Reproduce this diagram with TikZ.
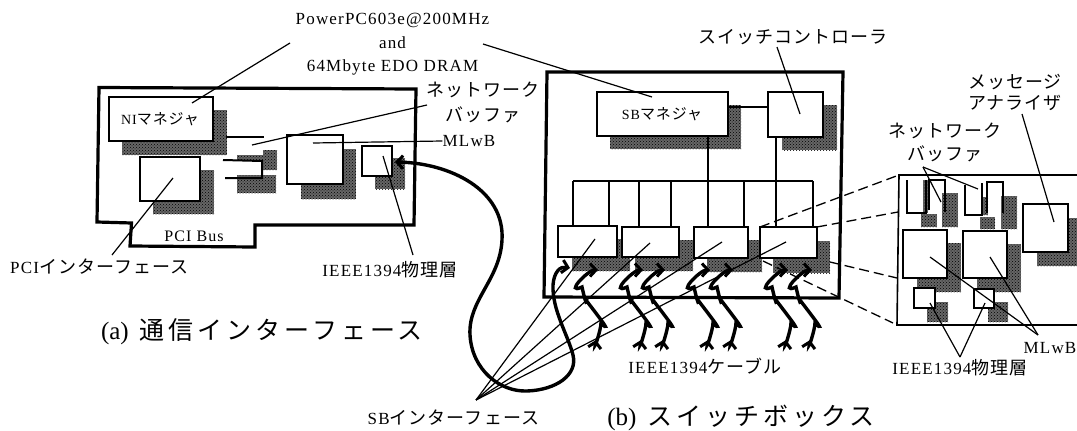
\documentclass[tikz,border=0pt]{standalone}
\usepackage{fontspec}
\setmainfont{Liberation Serif}
\newfontfamily\lat[LetterSpace=7]{Liberation Serif}
\newfontfamily\cjk[LetterSpace=6]{Noto Sans CJK JP}
\newfontfamily\capf[LetterSpace=16]{Noto Sans CJK JP}
\usetikzlibrary{arrows.meta,patterns}
\tikzset{
  wall/.style={draw=black,line width=3.2pt,line join=miter},
  boxst/.style={draw=black,line width=2pt,fill=white,inner sep=0pt,outer sep=0pt},
  shad/.style={fill=black!60,draw=none,postaction={pattern=crosshatch dots,pattern color=black}},
  lead/.style={draw=black,line width=1.2pt},
  wire/.style={draw=black,line width=1.7pt},
  dashln/.style={draw=black,line width=1.3pt,dash pattern=on 10pt off 5pt},
  cable/.style={draw=black,line width=3.4pt,{Straight Barb[length=6pt,width=13pt,line width=3pt]}-{Straight Barb[length=6pt,width=13pt,line width=3pt]}},
  lab/.style={inner sep=0pt,align=center,font=\fontsize{17}{23.5}\selectfont\lat},
  kana/.style={inner sep=0pt,align=center,font=\fontsize{18}{24.5}\selectfont\cjk},
  captext/.style={inner sep=0pt,font=\fontsize{25}{28}\selectfont\capf},
}
\newcommand\bxn[5]{%
  \pgfmathsetmacro\wdd{#4-#2}\pgfmathsetmacro\htt{#5-#3}%
  \pgfmathsetmacro\cxx{(#2+#4)/2}\pgfmathsetmacro\cyy{(#3+#5)/2}%
  \node[boxst,minimum width=\wdd pt,minimum height=\htt pt] (#1) at (\cxx,\cyy) {};}
\newcommand\shd[4]{\fill[shad] (#1,#2) rectangle (#3,#4);}
\newcommand\kn[1]{{\fontsize{18}{18}\selectfont\cjk #1}}
\newcommand\tinycable[2]{%
  \coordinate (#1) at (#2,270);
  \draw[cable] (#1) .. controls +(-10,0) and +(-18,8) .. ++(-16,17)
     .. controls +(1,5) and +(1,8) .. ++(4,13)
     .. controls +(5,7) and +(14,14) .. ++(15,23)
     .. controls +(0,6) and +(-2,11) .. ++(-5,17);}
\begin{document}
\begin{tikzpicture}[x=1pt,y=-1pt]
\useasboundingbox (0,0) rectangle (1077,431);

% ---- (a) interface board
\draw[wall] (99,87.5) -- (416,89) -- (414,225) -- (255,225) -- (255,247) -- (130,246) -- (131.5,223) -- (97,222) -- cycle;
\shd{122}{110}{227}{155}
\shd{153}{170}{214}{214}
\shd{263}{150}{277}{170}
\shd{237}{155}{263}{160}
\shd{237}{175}{276}{193}
\shd{301}{149}{356}{199}
\shd{375}{158}{405}{189}
\bxn{nim}{109}{97}{213}{141}
\bxn{pcib}{140}{157}{200}{201}
\bxn{bufa}{287}{135}{343}{184}
\bxn{phya}{362}{146}{392}{176}
\draw[wire,line width=2pt] (226,137) -- (264,137);
\draw[wire,line width=2pt] (223,160) -- (262,161) -- (262,178) -- (225,178);
\node[lab] (nimt) at (160,119) {\fontsize{14}{14}\selectfont\lat NI\fontsize{15}{15}\selectfont\cjk マネジャ};
\node[lab,font=\fontsize{16}{16}\selectfont\lat] (pcibus) at (194,236) {PCI Bus};

% ---- shared label
\node[lab] (ppc) at (392.5,44.5) {PowerPC603e@200MHz\\and\\64Mbyte EDO DRAM};
\node[kana] (nba) at (483,102.5) {ネットワーク\\バッファ};
\node[lab] (mlwa) at (469,141) {MLwB};
\node[lab] (phyta) at (390,270) {IEEE1394\kn{物理層}};
\node[lab,anchor=west] (pcit) at (10,267) {PCI\kn{インターフェース}};
\node[captext] (capa) at (262,332) {{\fontsize{25}{28}\selectfont\rmfamily (a)}\kern11pt 通信インターフェース};

% ---- (b) switch box
\draw[wall] (547,72) -- (843,72) -- (839,298) -- (544,297) -- cycle;
\shd{610}{105}{741}{149}
\shd{782}{105}{837}{150}
\shd{572}{239}{630}{271}
\shd{635}{240}{693}{271}
\shd{707}{240}{762}{272}
\shd{773}{241}{830}{273}
\bxn{sbm}{597}{92}{728}{136}
\bxn{ctl}{768}{92}{823}{137}
\foreach \xx/\nn in {573/a,609/b,639/c,671/d,708/e,744/f,776/g,813/h}{
  \coordinate (top\nn) at (\xx,181);
  \draw[wire] (top\nn) -- (\xx,227);
}
\draw[wire] (topa) -- (toph);
\bxn{sba}{558}{226}{617}{257}
\bxn{sbb}{622}{227}{679}{257}
\bxn{sbc}{694}{227}{748}{258}
\bxn{sbd}{760}{227}{817}{258}
\draw[wire] (sbm.east |- 0,107) -- (ctl.west |- 0,107);
\draw[wire] (sbm.south -| tope) -- (tope);
\draw[wire] (ctl.south -| topg) -- (topg);
\node[lab] (sbmt) at (662,114) {\fontsize{14}{14}\selectfont\lat SB\fontsize{15}{15}\selectfont\cjk マネジャ};
\node[kana] (ctlt) at (793,37) {スイッチコントローラ};

% small cables
\tinycable{c1}{598}
\tinycable{c2}{643}
\tinycable{c3}{665}
\tinycable{c4}{710}
\tinycable{c5}{733}
\tinycable{c6}{788}
\tinycable{c7}{812}

% long cable
\coordinate (c0a) at (395,162);
\coordinate (c0b) at (570,268);
\draw[cable] (c0a) .. controls (450,163) and (505,190) .. (502,240)
   .. controls (500,280) and (468,300) .. (470,335)
   .. controls (472,370) and (500,392) .. (527,391)
   .. controls (556,390) and (578,375) .. (573,355)
   .. controls (568,335) and (552,310) .. (553,285)
   .. controls (554,272) and (560,266) .. (c0b);

% ---- right inset
\draw[line width=1.6pt] (1077,175) -- (899,175) -- (897,325) -- (1077,325);
\shd{923}{180}{928}{213}
\shd{921}{214}{937}{227}
\shd{942}{193}{958}{227}
\shd{982}{197}{988}{215}
\shd{980}{217}{995}{229}
\shd{1001}{196}{1017}{229}
\shd{917}{243}{961}{292}
\shd{977}{244}{1021}{292}
\shd{1037}{218}{1077}{266}
\shd{927}{302}{948}{322}
\shd{988}{302}{1008}{322}
\bxn{ba}{903}{230}{947}{278}
\bxn{bb}{963}{231}{1007}{278}
\bxn{an}{1023}{204}{1068}{252}
\bxn{pa}{914}{288}{935}{308}
\bxn{pb}{974}{289}{994}{308}
\draw[wire,line width=2pt] (907,180) -- (907,213) -- (926,213) -- (926,180);
\draw[wire,line width=2pt] (929,210) -- (929,180) -- (945,180) -- (945,212);
\draw[wire,line width=2pt] (965,185) -- (965,215) -- (982,215) -- (982,183);
\draw[wire,line width=2pt] (987,213) -- (987,182) -- (1003,182) -- (1003,213);

\draw[dashln] (sbd.north west) -- (899,175);
\draw[dashln] (sbd.north east) -- (898,212);
\draw[dashln] (830,262) -- (897,278);
\draw[dashln] (763,261) -- (893,323);

\node[kana,font=\fontsize{18}{21}\selectfont\cjk] (mest) at (1015,92.5) {メッセージ\\アナライザ};
\node[kana,font=\fontsize{18}{23}\selectfont\cjk] (nbt) at (945,142.5) {ネットワーク\\バッファ};
\node[lab] (mlwb) at (1050,348) {MLwB};
\node[lab] (phytb) at (960,368) {IEEE1394\kn{物理層}};
\node[lab] (cabt) at (705,366) {IEEE1394\kn{ケーブル}};
\node[lab] (sbit) at (453.5,418) {SB\kn{インターフェース}};
\node[captext] (capb) at (741,418) {{\fontsize{25}{28}\selectfont\rmfamily (b)}\kern11pt スイッチボックス};

% ---- leaders
\draw[lead] (290,43) -- (192,103);
\draw[lead] (427,105) -- (252,145);
\draw[lead] (mlwa.west) -- (313,143);
\draw[lead] (413,255) -- (383,156);
\draw[lead] (112,255) -- (173,178);
\draw[lead] (483,44) -- (652,97);
\draw[lead] (777,47) -- (800,114);
\foreach \tx/\ty in {595/239,650/243,722/242,786/242}
  \draw[lead] (476,400) -- (\tx,\ty);
\draw[lead] (923,167) -- (941,202);
\draw[lead] (923,167) -- (978,189);
\draw[lead] (1022,114) -- (1054,222);
\draw[lead] (1038,335) -- (930,257);
\draw[lead] (1038,335) -- (990,257);
\draw[lead] (960,357) -- (930,303);
\draw[lead] (960,357) -- (985,303);
\end{tikzpicture}
\end{document}
